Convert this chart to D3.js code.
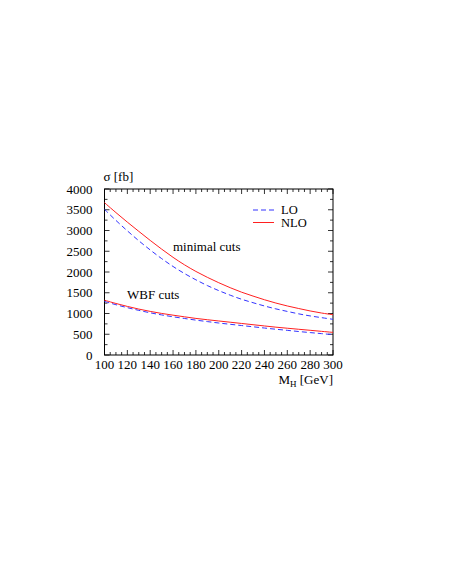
<!DOCTYPE html>
<html>
<head>
<meta charset="utf-8">
<script src="https://cdn.jsdelivr.net/npm/d3@7"></script>
<style>
  body { margin: 0; background: #fff; }
  text { font-family: "Liberation Serif", "DejaVu Serif", serif; font-size: 13px; fill: #000; }
</style>
</head>
<body>
<svg id="canvas" width="450" height="582"></svg>
<script>
// Higgs mass grid [GeV]
let massValues = [100, 110, 120, 130, 140, 150, 160, 170, 180, 190, 200,
                  210, 220, 230, 240, 250, 260, 270, 280, 290, 300];

// cross sections [fb]
let minimalLO  = [3510, 3240, 2990, 2750, 2530, 2320, 2130, 1960, 1810, 1670, 1550,
                  1440, 1340, 1260, 1180, 1110, 1050, 990, 940, 900, 860];
let minimalNLO = [3670, 3430, 3200, 2980, 2760, 2550, 2350, 2170, 2010, 1870, 1740,
                  1620, 1510, 1420, 1330, 1250, 1180, 1120, 1060, 1010, 970];
let wbfLO      = [1290, 1210, 1140, 1075, 1015, 965, 920, 880, 840, 805, 770,
                  740, 710, 680, 650, 620, 595, 565, 540, 515, 490];
let wbfNLO     = [1320, 1240, 1170, 1105, 1050, 1000, 960, 920, 880, 850, 820,
                  790, 760, 730, 700, 670, 645, 620, 595, 570, 545];

let xTicks = [100, 120, 140, 160, 180, 200, 220, 240, 260, 280, 300];
let yTicks = [0, 500, 1000, 1500, 2000, 2500, 3000, 3500, 4000];

let svg = d3.select("#canvas");

let plotLeft = 104.5, plotRight = 333, plotTop = 189, plotBottom = 355;

let xScale = d3.scaleLinear().domain([100, 300]).range([plotLeft, plotRight]);
let yScale = d3.scaleLinear().domain([0, 4000]).range([plotBottom, plotTop]);

// frame
svg.append("rect")
  .attr("x", plotLeft).attr("y", plotTop)
  .attr("width", plotRight - plotLeft).attr("height", plotBottom - plotTop)
  .attr("fill", "none").attr("stroke", "#000").attr("stroke-width", 1);

// tick marks on all four sides
let xMinor = d3.range(100, 301, 5);
let yMinor = d3.range(0, 4001, 250);

let drawTicks = () => {
  let g = svg.append("g").attr("stroke", "#000").attr("stroke-width", 0.8);
  xMinor.forEach((v) => {
    let len = (v % 20 === 0) ? 5 : 3;
    let x = xScale(v);
    g.append("line").attr("x1", x).attr("x2", x).attr("y1", plotBottom).attr("y2", plotBottom - len);
    g.append("line").attr("x1", x).attr("x2", x).attr("y1", plotTop).attr("y2", plotTop + len);
  });
  yMinor.forEach((v) => {
    let len = (v % 500 === 0) ? 5 : 3;
    let y = yScale(v);
    g.append("line").attr("x1", plotLeft).attr("x2", plotLeft + len).attr("y1", y).attr("y2", y);
    g.append("line").attr("x1", plotRight).attr("x2", plotRight - len).attr("y1", y).attr("y2", y);
  });
};
drawTicks();

// tick labels
svg.append("g")
  .selectAll("text")
  .data(xTicks)
  .enter()
  .append("text")
  .attr("x", (d) => xScale(d))
  .attr("y", plotBottom + 14)
  .attr("text-anchor", "middle")
  .text((d) => d);

svg.append("g")
  .selectAll("text")
  .data(yTicks)
  .enter()
  .append("text")
  .attr("x", plotLeft - 12)
  .attr("y", (d) => yScale(d) + 4.5)
  .attr("text-anchor", "end")
  .text((d) => d);

// axis titles
svg.append("text").attr("x", plotLeft - 1).attr("y", 181).text("σ [fb]");

let mh = svg.append("text").attr("x", plotRight).attr("y", 384).attr("text-anchor", "end");
mh.append("tspan").text("M");
mh.append("tspan").attr("dy", 3).attr("font-size", "9px").text("H");
mh.append("tspan").attr("dy", -3).text(" [GeV]");

// curves
let line = d3.line()
  .x((d, i) => xScale(massValues[i]))
  .y((d) => yScale(d))
  .curve(d3.curveBasis);

let series = [
  { data: minimalLO, color: "#3333ff", dash: "5,3" },
  { data: wbfLO, color: "#3333ff", dash: "5,3" },
  { data: minimalNLO, color: "#ff2020", dash: null },
  { data: wbfNLO, color: "#ff2020", dash: null }
];

svg.append("g")
  .selectAll("path")
  .data(series)
  .enter()
  .append("path")
  .attr("d", (s) => line(s.data))
  .attr("fill", "none")
  .attr("stroke", (s) => s.color)
  .attr("stroke-width", 1)
  .attr("stroke-dasharray", (s) => s.dash);

// curve labels
svg.append("text").attr("x", 173).attr("y", 251).text("minimal cuts");
svg.append("text").attr("x", 127).attr("y", 299).text("WBF cuts");

// legend
let legend = [
  { label: "LO", color: "#3333ff", dash: "5,3", y: 210 },
  { label: "NLO", color: "#ff2020", dash: null, y: 222.5 }
];
legend.forEach((d) => {
  svg.append("line")
    .attr("x1", 253).attr("x2", 274)
    .attr("y1", d.y).attr("y2", d.y)
    .attr("stroke", d.color).attr("stroke-width", 1)
    .attr("stroke-dasharray", d.dash);
  svg.append("text").attr("x", 281).attr("y", d.y + 4)
    .style("font-size", "12.5px").text(d.label);
});
</script>
</body>
</html>
